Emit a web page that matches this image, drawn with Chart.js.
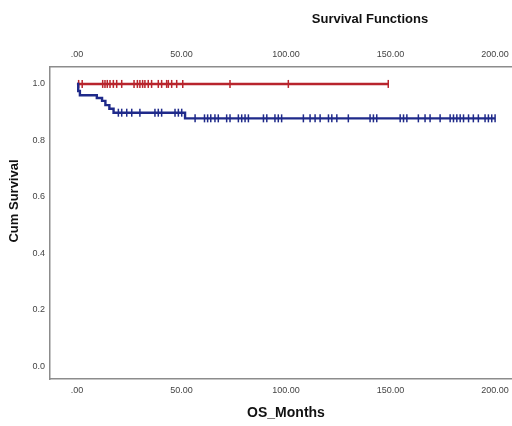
<!DOCTYPE html>
<html lang="en">
<head>
  <meta charset="UTF-8">
  <title>Survival Functions</title>
  <script src="https://cdn.jsdelivr.net/npm/chart.js"></script>
  <style>
    html, body { margin: 0; padding: 0; background: #fff; overflow: hidden; }
  </style>
</head>
<body>
  <canvas id="kmChart" width="540" height="426"></canvas>

  <script>
    // x tick labels (months) and y tick labels (cum survival)
    const xTicks = [0, 50, 100, 150, 200];
    const yTicks = [0, 0.2, 0.4, 0.6, 0.8, 1.0];

    // red group: no events, line stays at 1.0
    const redTimes = [0, 148.9];
    const redSurv = [1, 1];
    const redCensored = [0.8, 2.5, 12.3, 13.4, 14.5, 15.8, 17.4, 19, 21.4, 27.3, 28.9, 30.1, 31.4,
      32.5, 34.1, 35.7, 38.9, 40.5, 42.9, 43.7, 45.3, 47.7, 50.6, 73.2, 101.1, 148.9];

    // blue group: step points (time, survival after step)
    const blueTimes = [0, 0.6, 1.4, 9.5, 12, 13.6, 15.5, 17.5, 51.7, 200];
    const blueSurv = [1, 0.975, 0.96, 0.95, 0.94, 0.925, 0.912, 0.898, 0.878, 0.878];
    const blueCensored = [19.8, 21.4, 23.8, 26.2, 30.1, 37.3, 38.9, 40.5, 46.9, 48.5, 50.1,
      56.5, 61, 62.5, 64, 66, 67.6, 71.6, 73.2, 77.2, 78.8, 80.4, 82, 89.2, 90.8, 94.7, 96.3, 97.9,
      108.3, 111.5, 113.9, 116.3, 120.3, 121.9, 124.3, 129.8, 140.2, 141.8, 143.4, 154.6, 156.2,
      157.8, 163.3, 166.5, 168.9, 173.7, 178.5, 180.1, 181.7, 183.3, 184.9, 187.3, 189.6, 192,
      195.2, 196.8, 198.4, 200];

    const RED = '#b8242c';
    const BLUE = '#1f2a8a';

    // survival value at time t (last step at or before t)
    function survAt(times, surv, t) {
      let s = surv[0];
      for (let i = 0; i < times.length; i++) {
        if (times[i] <= t) s = surv[i];
      }
      return s;
    }

    const toPoints = (times, surv) => times.map((t, i) => ({ x: t, y: surv[i] }));
    const censorPoints = (cens, times, surv) => cens.map(t => ({ x: t, y: survAt(times, surv, t) }));

    const fmtX = v => v === 0 ? '.00' : v.toFixed(2);
    const fixTicks = list => scale => { scale.ticks = list.map(v => ({ value: v })); };

    const tickFont = { family: '"Liberation Sans", Arial, sans-serif', size: 9 };

    // titles drawn at the positions they have in the original figure
    const titlePlugin = {
      id: 'titles',
      afterDraw(chart) {
        const ctx = chart.ctx;
        ctx.save();
        ctx.fillStyle = '#111';
        ctx.textAlign = 'center';
        ctx.textBaseline = 'middle';
        ctx.font = 'bold 13px "Liberation Sans", Arial, sans-serif';
        ctx.fillText('Survival Functions', 370, 19);
        ctx.font = 'bold 14px "Liberation Sans", Arial, sans-serif';
        ctx.fillText('OS_Months', 286, 413);
        ctx.translate(14, 201);
        ctx.rotate(-Math.PI / 2);
        ctx.font = 'bold 13px "Liberation Sans", Arial, sans-serif';
        ctx.fillText('Cum Survival', 0, 0);
        ctx.restore();
      }
    };

    const ctx = document.getElementById('kmChart').getContext('2d');
    new Chart(ctx, {
      type: 'scatter',
      data: {
        datasets: [
          {
            label: 'blue',
            data: toPoints(blueTimes, blueSurv),
            showLine: true,
            stepped: true,
            borderColor: BLUE,
            borderWidth: 2.4,
            pointRadius: 0
          },
          {
            label: 'blue censored',
            data: censorPoints(blueCensored, blueTimes, blueSurv),
            pointStyle: 'line',
            rotation: 90,
            radius: 4,
            borderColor: BLUE,
            backgroundColor: BLUE,
            borderWidth: 1.5
          },
          {
            label: 'red',
            data: toPoints(redTimes, redSurv),
            showLine: true,
            stepped: true,
            borderColor: RED,
            borderWidth: 2.4,
            pointRadius: 0
          },
          {
            label: 'red censored',
            data: censorPoints(redCensored, redTimes, redSurv),
            pointStyle: 'line',
            rotation: 90,
            radius: 4,
            borderColor: RED,
            backgroundColor: RED,
            borderWidth: 1.5
          }
        ]
      },
      options: {
        responsive: false,
        animation: false,
        layout: { padding: { left: 0, right: 10, top: 0, bottom: 0 } },
        plugins: {
          legend: { display: false },
          tooltip: { enabled: false }
        },
        scales: {
          x: {
            type: 'linear',
            position: 'bottom',
            min: -12.9,
            max: 216.7,
            afterBuildTicks: fixTicks(xTicks),
            afterFit: s => { s.height = 47; },
            grid: { display: false, drawTicks: false },
            border: { display: true, color: '#8c8c8c', width: 1.5 },
            ticks: { callback: fmtX, font: tickFont, color: '#444', padding: 6, maxRotation: 0 }
          },
          x2: {
            type: 'linear',
            position: 'top',
            min: -12.9,
            max: 216.7,
            afterBuildTicks: fixTicks(xTicks),
            afterFit: s => { s.height = 67; },
            grid: { display: false, drawTicks: false },
            border: { display: true, color: '#8c8c8c', width: 1.5 },
            ticks: { callback: fmtX, font: tickFont, color: '#444', padding: 7, maxRotation: 0 }
          },
          y: {
            type: 'linear',
            min: -0.046,
            max: 1.06,
            afterBuildTicks: fixTicks(yTicks),
            afterFit: s => { s.width = 50; },
            grid: { display: false, drawTicks: false },
            border: { display: true, color: '#8c8c8c', width: 1.5 },
            ticks: { callback: v => v.toFixed(1), font: tickFont, color: '#444', padding: 5 }
          }
        }
      },
      plugins: [titlePlugin]
    });
  </script>
</body>
</html>
